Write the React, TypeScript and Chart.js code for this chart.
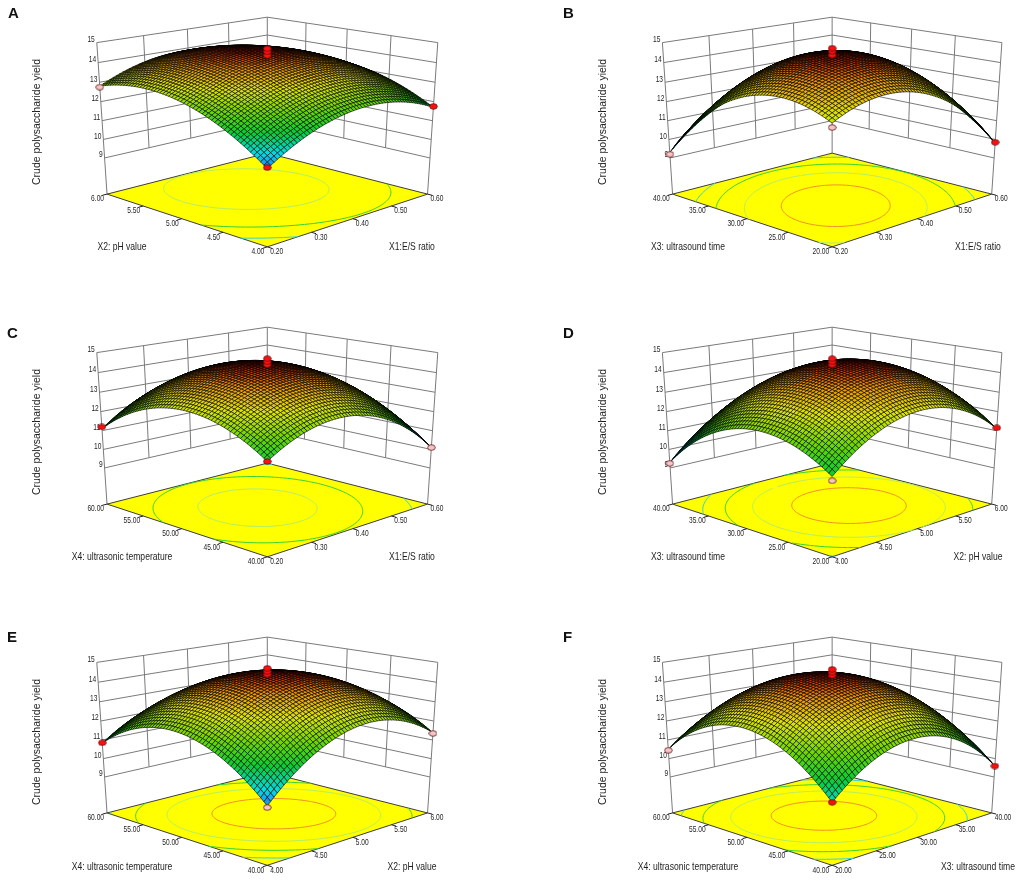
import { useEffect, useRef } from 'react';
import { Chart, registerables } from 'chart.js';
Chart.register(...registerables);

// factor levels = floor tick labels
const X1_TICKS = [0.2, 0.3, 0.4, 0.5, 0.6];
const X2_TICKS = [4.0, 4.5, 5.0, 5.5, 6.0];
const X3_TICKS = [20, 25, 30, 35, 40];
const X4_TICKS = [40, 45, 50, 55, 60];
const YIELD_TICKS = [9, 10, 11, 12, 13, 14, 15];

const X1_LABEL = 'X1:E/S ratio';
const X2_LABEL = 'X2: pH value';
const X3_LABEL = 'X3: ultrasound time';
const X4_LABEL = 'X4: ultrasonic temperature';
const YIELD_LABEL = 'Crude polysaccharide yield';

// predicted yield on the tick grid
// rows = factor on the left floor edge (low -> high), cols = factor on the right floor edge (low -> high)
const YIELD_A = [
  [10.8, 12.0, 12.55, 12.45, 11.7],
  [12.2, 13.31, 13.78, 13.59, 12.75],
  [13.0, 14.03, 14.4, 14.13, 13.2],
  [13.2, 14.14, 14.43, 14.06, 13.05],
  [12.8, 13.65, 13.85, 13.4, 12.3],
];
const YIELD_B = [
  [12.9, 13.63, 13.35, 12.08, 9.8],
  [13.54, 14.51, 14.49, 13.46, 11.44],
  [13.15, 14.38, 14.6, 13.83, 12.05],
  [11.74, 13.21, 13.69, 13.16, 11.64],
  [9.3, 11.03, 11.75, 11.48, 10.2],
];
const YIELD_C = [
  [11.6, 12.65, 12.75, 11.9, 10.1],
  [12.75, 13.88, 14.05, 13.28, 11.55],
  [13.05, 14.25, 14.5, 13.8, 12.15],
  [12.5, 13.78, 14.1, 13.48, 11.9],
  [11.1, 12.45, 12.85, 12.3, 10.8],
];
const YIELD_D = [
  [10.9, 12.45, 13.0, 12.55, 11.1],
  [12.0, 13.63, 14.25, 13.88, 12.5],
  [12.1, 13.8, 14.5, 14.2, 12.9],
  [11.2, 12.98, 13.75, 13.53, 12.3],
  [9.3, 11.15, 12.0, 11.85, 10.7],
];
const YIELD_E = [
  [9.93, 11.79, 12.65, 12.51, 11.38],
  [11.65, 13.36, 14.08, 13.79, 12.5],
  [12.38, 13.94, 14.5, 14.06, 12.63],
  [12.1, 13.51, 13.93, 13.34, 11.75],
  [10.83, 12.09, 12.35, 11.61, 9.88],
];
const YIELD_F = [
  [10.1, 11.7, 12.15, 11.45, 9.6],
  [11.93, 13.48, 13.88, 13.13, 11.23],
  [12.6, 14.1, 14.45, 13.65, 11.7],
  [12.13, 13.58, 13.88, 13.03, 11.03],
  [10.5, 11.9, 12.15, 11.25, 9.2],
];

// contour levels on the floor
const LEVELS_A = [11.7, 12.7, 13.9];
const LEVELS_B = [11, 12.1, 13.2, 14.2];
const LEVELS_C = [11, 12.9, 14];
const LEVELS_D = [11, 12, 13, 14];
const LEVELS_E = [11, 12, 13, 14];
const LEVELS_F = [11, 12, 13, 14];

// design points: [right factor, left factor, yield, 1 = above surface]
const RUNS_A = [[0.4, 5, 14.36, 1], [0.4, 5, 14.55, 1], [0.4, 5, 14.7, 1], [0.2, 6, 12.75, 0], [0.6, 4, 11.75, 1], [0.2, 4, 10.85, 1]];
const RUNS_B = [[0.4, 30, 14.38, 1], [0.4, 30, 14.57, 1], [0.4, 30, 14.72, 1], [0.2, 40, 9.2, 0], [0.6, 20, 9.85, 1], [0.2, 20, 12.7, 0]];
const RUNS_C = [[0.4, 50, 14.4, 1], [0.4, 50, 14.55, 1], [0.4, 50, 14.7, 1], [0.2, 60, 11.2, 1], [0.6, 40, 10.1, 0], [0.2, 40, 11.6, 1]];
const RUNS_D = [[5, 30, 14.4, 1], [5, 30, 14.55, 1], [5, 30, 14.7, 1], [4, 40, 9.25, 0], [6, 20, 11.15, 1], [4, 20, 10.7, 0]];
const RUNS_E = [[5, 50, 14.4, 1], [5, 50, 14.55, 1], [5, 50, 14.7, 1], [4, 60, 10.85, 1], [6, 40, 11.35, 0], [4, 40, 9.85, 0]];
const RUNS_F = [[30, 50, 14.35, 1], [30, 50, 14.5, 1], [30, 50, 14.65, 1], [20, 60, 10.45, 0], [40, 40, 9.6, 1], [20, 40, 10.1, 1]];

const CYAN = '#2fd2e2';
const GREEN = '#36d236';
const LIME = '#b6ec66';
const ORANGE = '#f39028';

// camera of the 3D view (box half-diagonal = 1)
const VIEW = {
  pitch: (27.3 * Math.PI) / 180,
  dist: 6.9,
  eye: 1.836,
  zStep: 0.1157,
  floor: 7,
  focal: 1155,
  cx: 267,
  cy: 412,
};
const COS = Math.cos(VIEW.pitch);
const SIN = Math.sin(VIEW.pitch);

function project(a: number, b: number, z: number) {
  const t = a - b;
  const q = VIEW.dist + a + b - 1;
  const h = (z - 9) * VIEW.zStep - VIEW.eye;
  const d = q * COS - h * SIN;
  return { x: t / d, y: (-h * COS - q * SIN) / d, d };
}

const frac = (ticks: number[], v: number) => (v - ticks[0]) / (ticks[ticks.length - 1] - ticks[0]);

// smooth pass through the grid values (like line tension)
function catmull(v: number[], s: number) {
  const n = v.length;
  const at = (k: number) =>
    k < 0 ? 3 * v[0] - 3 * v[1] + v[2] : k > n - 1 ? 3 * v[n - 1] - 3 * v[n - 2] + v[n - 3] : v[k];
  const i = Math.min(Math.floor(s), n - 2);
  const u = s - i;
  const p0 = at(i - 1), p1 = v[i], p2 = v[i + 1], p3 = at(i + 2);
  return 0.5 * (2 * p1 + (-p0 + p2) * u + (2 * p0 - 5 * p1 + 4 * p2 - p3) * u * u + (-p0 + 3 * p1 - 3 * p2 + p3) * u * u * u);
}

const RAMP: [number, number[]][] = [
  [0, [40, 110, 255]],
  [0.13, [0, 220, 235]],
  [0.33, [10, 205, 50]],
  [0.52, [110, 216, 0]],
  [0.71, [222, 228, 0]],
  [0.88, [238, 150, 0]],
  [1, [205, 35, 0]],
];
function ramp(u: number) {
  u = Math.max(0, Math.min(1, u));
  for (let k = 1; k < RAMP.length; k++) {
    if (u <= RAMP[k][0]) {
      const [u0, c0] = RAMP[k - 1];
      const [u1, c1] = RAMP[k];
      const w = (u - u0) / (u1 - u0);
      return `rgb(${c0.map((c, m) => Math.round(c + (c1[m] - c) * w)).join(',')})`;
    }
  }
  return 'rgb(205,35,0)';
}

const FONT = '"Liberation Sans", Arial, sans-serif';
function txt(ctx: CanvasRenderingContext2D, s: string, x: number, y: number, align: CanvasTextAlign, size: number, rot = 0, sx = 0.78) {
  ctx.save();
  ctx.translate(x, y);
  if (rot) ctx.rotate(rot);
  ctx.scale(sx, 1);
  ctx.textAlign = align;
  ctx.textBaseline = 'middle';
  ctx.font = `${size}px ${FONT}`;
  ctx.fillText(s, 0, 0);
  ctx.restore();
}

type Factor = { name: string; ticks: number[] };
type PanelDef = {
  letter: string;
  right: Factor;
  left: Factor;
  grid: number[][];
  levels: number[];
  levelColors: string[];
  runs: number[][];
  frame: { left: number; top: number; width: number; height: number };
  letterPos: { left: number; top: number };
};

const X1 = { name: X1_LABEL, ticks: X1_TICKS };
const X2 = { name: X2_LABEL, ticks: X2_TICKS };
const X3 = { name: X3_LABEL, ticks: X3_TICKS };
const X4 = { name: X4_LABEL, ticks: X4_TICKS };

const PANELS: PanelDef[] = [
  { letter: 'A', right: X1, left: X2, grid: YIELD_A, levels: LEVELS_A, levelColors: [CYAN, GREEN, LIME], runs: RUNS_A,
    frame: { left: 0, top: 0, width: 566, height: 310 }, letterPos: { left: 8, top: 4 } },
  { letter: 'B', right: X1, left: X3, grid: YIELD_B, levels: LEVELS_B, levelColors: [CYAN, GREEN, LIME, ORANGE], runs: RUNS_B,
    frame: { left: 566, top: 0, width: 455, height: 310 }, letterPos: { left: 563, top: 4 } },
  { letter: 'C', right: X1, left: X4, grid: YIELD_C, levels: LEVELS_C, levelColors: [CYAN, GREEN, LIME], runs: RUNS_C,
    frame: { left: 0, top: 310, width: 566, height: 309 }, letterPos: { left: 7, top: 324 } },
  { letter: 'D', right: X2, left: X3, grid: YIELD_D, levels: LEVELS_D, levelColors: [CYAN, GREEN, LIME, ORANGE], runs: RUNS_D,
    frame: { left: 566, top: 310, width: 455, height: 309 }, letterPos: { left: 563, top: 324 } },
  { letter: 'E', right: X2, left: X4, grid: YIELD_E, levels: LEVELS_E, levelColors: [CYAN, GREEN, LIME, ORANGE], runs: RUNS_E,
    frame: { left: 0, top: 620, width: 566, height: 261 }, letterPos: { left: 7, top: 628 } },
  { letter: 'F', right: X3, left: X4, grid: YIELD_F, levels: LEVELS_F, levelColors: [CYAN, GREEN, LIME, ORANGE], runs: RUNS_F,
    frame: { left: 566, top: 620, width: 455, height: 261 }, letterPos: { left: 563, top: 628 } },
];

function surfacePlugin(p: PanelDef) {
  const N = 56;
  const fine: number[][] = [];
  for (let j = 0; j <= N; j++) {
    const row: number[] = [];
    for (let i = 0; i <= N; i++) {
      const col = p.grid.map((r) => catmull(r, (i / N) * (r.length - 1)));
      row.push(catmull(col, (j / N) * (col.length - 1)));
    }
    fine.push(row);
  }
  let zmin = Infinity, zmax = -Infinity;
  fine.forEach((r) => r.forEach((v) => { zmin = Math.min(zmin, v); zmax = Math.max(zmax, v); }));

  return {
    id: 'surface3d',
    beforeDatasetsDraw(chart: any) {
      const ctx: CanvasRenderingContext2D = chart.ctx;
      const sx = chart.scales.x, sy = chart.scales.y;
      const P = (a: number, b: number, z: number): [number, number] => {
        const q = project(a, b, z);
        return [sx.getPixelForValue(q.x), sy.getPixelForValue(q.y)];
      };
      const seg = (u: number[], v: number[]) => { ctx.moveTo(u[0], u[1]); ctx.lineTo(v[0], v[1]); };
      const zLo = YIELD_TICKS[0], zHi = YIELD_TICKS[YIELD_TICKS.length - 1], fl = VIEW.floor;
      const rIn = p.right.ticks.slice(1, -1).map((v) => frac(p.right.ticks, v));
      const lIn = p.left.ticks.slice(1, -1).map((v) => frac(p.left.ticks, v));

      ctx.save();
      // back walls
      ctx.beginPath();
      ctx.strokeStyle = '#7a7a7a';
      ctx.lineWidth = 1;
      YIELD_TICKS.forEach((z) => { seg(P(0, 1, z), P(1, 1, z)); seg(P(1, 1, z), P(1, 0, z)); });
      rIn.forEach((f) => seg(P(f, 1, zLo), P(f, 1, zHi)));
      lIn.forEach((f) => seg(P(1, f, zLo), P(1, f, zHi)));
      seg(P(0, 1, fl), P(0, 1, zHi));
      seg(P(1, 1, fl), P(1, 1, zHi));
      seg(P(1, 0, fl), P(1, 0, zHi));
      ctx.stroke();

      // floor
      const fc = [P(0, 0, fl), P(1, 0, fl), P(1, 1, fl), P(0, 1, fl)];
      ctx.beginPath();
      fc.forEach((q, k) => (k ? ctx.lineTo(q[0], q[1]) : ctx.moveTo(q[0], q[1])));
      ctx.closePath();
      ctx.fillStyle = '#ffff00';
      ctx.fill();
      ctx.strokeStyle = '#3c3c3c';
      ctx.stroke();

      // contours on the floor
      ctx.lineWidth = 1;
      p.levels.forEach((L, li) => {
        ctx.beginPath();
        ctx.strokeStyle = p.levelColors[li];
        for (let j = 0; j < N; j++) {
          for (let i = 0; i < N; i++) {
            const v00 = fine[j][i], v10 = fine[j][i + 1], v01 = fine[j + 1][i], v11 = fine[j + 1][i + 1];
            const hits: [number, number][] = [];
            const edge = (va: number, vb: number, a0: number, b0: number, a1: number, b1: number) => {
              if ((va - L) * (vb - L) < 0) {
                const w = (L - va) / (vb - va);
                hits.push([(a0 + (a1 - a0) * w) / N, (b0 + (b1 - b0) * w) / N]);
              }
            };
            edge(v00, v10, i, j, i + 1, j);
            edge(v10, v11, i + 1, j, i + 1, j + 1);
            edge(v01, v11, i, j + 1, i + 1, j + 1);
            edge(v00, v01, i, j, i, j + 1);
            for (let k = 0; k + 1 < hits.length; k += 2) {
              seg(P(hits[k][0], hits[k][1], fl), P(hits[k + 1][0], hits[k + 1][1], fl));
            }
          }
        }
        ctx.stroke();
      });

      // floor ticks
      ctx.beginPath();
      ctx.strokeStyle = '#222';
      p.left.ticks.forEach((v) => { const f = frac(p.left.ticks, v); seg(P(0, f, fl), P(-0.025, f, fl)); });
      p.right.ticks.forEach((v) => { const f = frac(p.right.ticks, v); seg(P(f, 0, fl), P(f, -0.025, fl)); });
      ctx.stroke();

      // surface mesh, painted back to front
      const V = fine.map((r, j) => r.map((z, i) => {
        const q = project(i / N, j / N, z);
        return { px: sx.getPixelForValue(q.x), py: sy.getPixelForValue(q.y), d: q.d };
      }));
      const cells: { k: number[][]; d: number; c: string }[] = [];
      for (let j = 0; j < N; j++) {
        for (let i = 0; i < N; i++) {
          const k = [[j, i], [j, i + 1], [j + 1, i + 1], [j + 1, i]];
          const d = k.reduce((s, [a, b]) => s + V[a][b].d, 0) / 4;
          const z = k.reduce((s, [a, b]) => s + fine[a][b], 0) / 4;
          cells.push({ k, d, c: ramp((z - zmin) / (zmax - zmin)) });
        }
      }
      cells.sort((m, n) => n.d - m.d);
      ctx.lineWidth = 0.85;
      ctx.strokeStyle = 'rgba(0,0,0,0.72)';
      cells.forEach((cell) => {
        ctx.beginPath();
        cell.k.forEach(([a, b], m) => (m ? ctx.lineTo(V[a][b].px, V[a][b].py) : ctx.moveTo(V[a][b].px, V[a][b].py)));
        ctx.closePath();
        ctx.fillStyle = cell.c;
        ctx.fill();
        ctx.stroke();
      });

      // texts
      ctx.fillStyle = '#1e1e1e';
      YIELD_TICKS.forEach((z) => { const q = P(0, 1, z); txt(ctx, String(z), q[0] - 2, q[1] - 3, 'right', 8.5); });
      p.left.ticks.forEach((v) => { const q = P(0, frac(p.left.ticks, v), fl); txt(ctx, v.toFixed(2), q[0] - 3, q[1] + 5, 'right', 8.5); });
      p.right.ticks.forEach((v) => { const q = P(frac(p.right.ticks, v), 0, fl); txt(ctx, v.toFixed(2), q[0] + 3, q[1] + 5, 'left', 8.5); });
      txt(ctx, p.left.name, 122, 247, 'center', 11);
      txt(ctx, p.right.name, 412, 247, 'center', 11);
      txt(ctx, YIELD_LABEL, 37, 122, 'center', 10.5, -Math.PI / 2, 1);
      ctx.restore();
    },
  };
}

function dot(fill: string) {
  const c = document.createElement('canvas');
  c.width = 9;
  c.height = 7;
  const g = c.getContext('2d')!;
  g.beginPath();
  g.ellipse(4.5, 3.5, 3.8, 2.8, 0, 0, Math.PI * 2);
  g.fillStyle = fill;
  g.fill();
  g.strokeStyle = '#5a1010';
  g.lineWidth = 0.8;
  g.stroke();
  return c;
}

function SurfacePanel({ p }: { p: PanelDef }) {
  const ref = useRef<HTMLCanvasElement>(null);
  useEffect(() => {
    if (!ref.current) return;
    const { width, height } = p.frame;
    const red = dot('#ff1010');
    const pink = dot('#f6c6c6');
    const pts = p.runs.map((r) => {
      const q = project(frac(p.right.ticks, r[0]), frac(p.left.ticks, r[1]), r[2]);
      return { x: q.x, y: q.y };
    });
    const chart = new Chart(ref.current, {
      type: 'scatter',
      data: {
        datasets: [{
          data: pts,
          pointStyle: p.runs.map((r) => (r[3] ? red : pink)) as any,
          pointRadius: 4,
          clip: false as any,
        }],
      },
      options: {
        responsive: false,
        animation: false,
        events: [],
        layout: { padding: 0 },
        plugins: { legend: { display: false }, tooltip: { enabled: false } },
        scales: {
          x: { type: 'linear', display: false, min: -VIEW.cx / VIEW.focal, max: (width - VIEW.cx) / VIEW.focal },
          y: { type: 'linear', display: false, reverse: true, min: -VIEW.cy / VIEW.focal, max: (height - VIEW.cy) / VIEW.focal },
        },
      },
      plugins: [surfacePlugin(p) as any],
    });
    return () => { chart.destroy(); };
  }, [p]);
  return (
    <canvas
      ref={ref}
      width={p.frame.width}
      height={p.frame.height}
      style={{ position: 'absolute', left: p.frame.left, top: p.frame.top, width: p.frame.width, height: p.frame.height }}
    />
  );
}

export default function App() {
  return (
    <div style={{ position: 'absolute', left: 0, top: 0, width: 1021, height: 881, background: '#fff', overflow: 'hidden' }}>
      {PANELS.map((p) => (
        <div key={p.letter}>
          <SurfacePanel p={p} />
          <div style={{ position: 'absolute', left: p.letterPos.left, top: p.letterPos.top, font: `bold 15px/17px ${FONT}`, color: '#111' }}>
            {p.letter}
          </div>
        </div>
      ))}
    </div>
  );
}
